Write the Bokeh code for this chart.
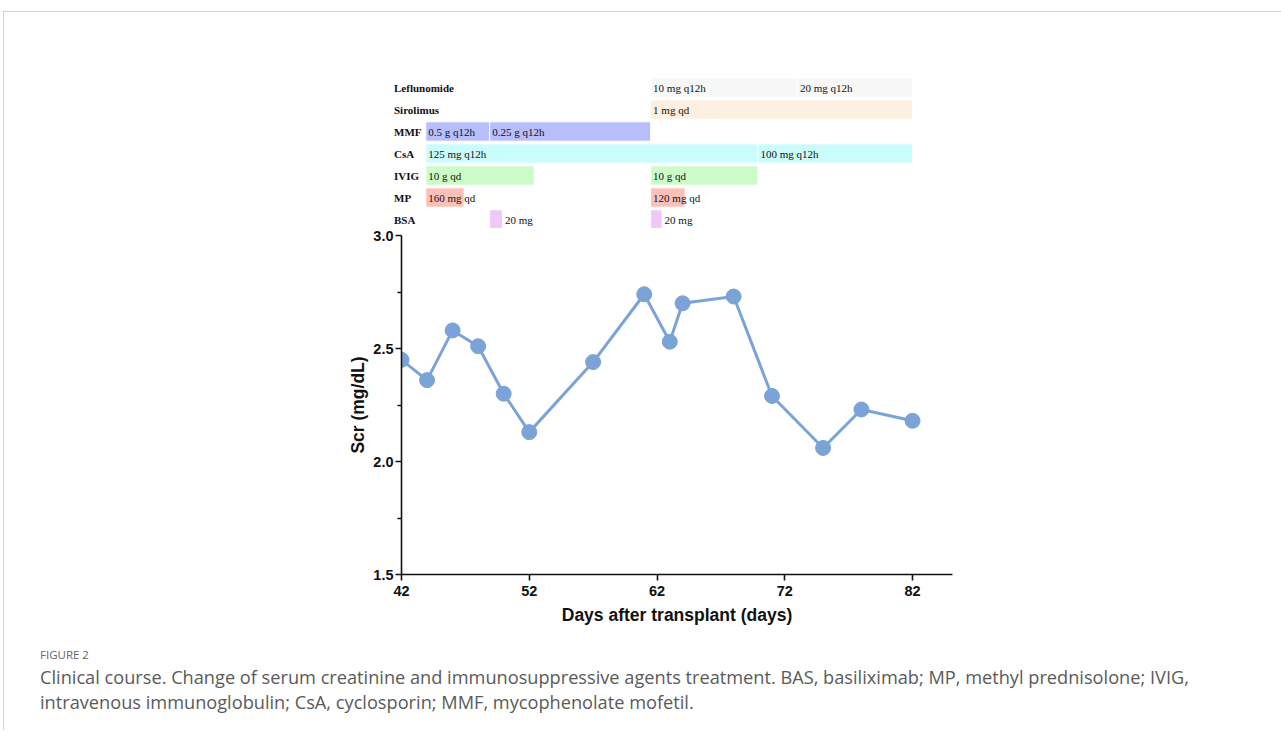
from bokeh.plotting import figure
from bokeh.models import (ColumnDataSource, Range1d, FixedTicker, Div, PrintfTickFormatter)
from bokeh.layouts import column
from bokeh.core.properties import value
from bokeh.embed import file_html
from bokeh.resources import INLINE

# ---------------- data ----------------
days = [42, 44, 46, 48, 50, 52, 57, 61, 63, 64, 68, 71, 75, 78, 82]
scr = [2.45, 2.36, 2.58, 2.51, 2.30, 2.13, 2.44, 2.74, 2.53, 2.70, 2.73, 2.29, 2.06, 2.23, 2.18]

x_ticks = [42, 52, 62, 72, 82]
y_ticks = [1.5, 2.0, 2.5, 3.0]
y_minor = [1.75, 2.25, 2.75]

drugs = ["Leflunomide", "Sirolimus", "MMF", "CsA", "IVIG", "MP", "BSA"]
seg_drug = ["Leflunomide", "Leflunomide", "Sirolimus", "MMF", "MMF", "CsA", "CsA",
            "IVIG", "IVIG", "MP", "MP", "BSA", "BSA"]
seg_start = [61.5, 73.0, 61.5, 43.9, 48.9, 43.9, 69.9, 43.9, 61.5, 43.9, 61.5, 48.9, 61.5]
seg_end = [73.0, 82.0, 82.0, 48.9, 61.5, 69.9, 82.0, 52.4, 69.9, 46.9, 64.2, 49.9, 62.4]
seg_text = ["10 mg q12h", "20 mg q12h", "1 mg qd", "0.5 g q12h", "0.25 g q12h",
            "125 mg q12h", "100 mg q12h", "10 g qd", "10 g qd", "160 mg qd", "120 mg qd",
            "20 mg", "20 mg"]

caption_title = "FIGURE 2"
caption_text = ("Clinical course. Change of serum creatinine and immunosuppressive agents treatment. "
                "BAS, basiliximab; MP, methyl prednisolone; IVIG, intravenous immunoglobulin; "
                "CsA, cyclosporin; MMF, mycophenolate mofetil.")

# ---------------- styles ----------------
drug_colors = {"Leflunomide": "#f7f7f7", "Sirolimus": "#fdf0e0", "MMF": "#b8befb",
               "CsA": "#cbfcfc", "IVIG": "#ccfdc8", "MP": "#fbc0b8", "BSA": "#efc7fb"}
line_color = "#7ba3d8"
PX_PER_DAY = 551 / (85.13 - 42)

# ---------------- treatment-row figure ----------------
top = figure(output_backend="svg", toolbar_location=None,
             frame_width=567, frame_height=216,
             min_border_left=381, min_border_right=329, min_border_top=0, min_border_bottom=0,
             x_range=Range1d(42 - 16 / PX_PER_DAY, 85.13),
             y_range=Range1d(75 / 22 - 216 / 22, 75 / 22))
top.frame_align = False
top.axis.visible = False
top.grid.visible = False
top.outline_line_color = None
top.background_fill_color = "white"
top.border_fill_color = "white"

row_index = {d: i for i, d in enumerate(drugs)}
ys = [-row_index[d] for d in seg_drug]
label_x = [e if d == "BSA" else s for d, s, e in zip(seg_drug, seg_start, seg_end)]
seg_src = ColumnDataSource(dict(
    left=seg_start, right=seg_end,
    bottom=[y - 0.44 for y in ys], top=[y + 0.44 for y in ys],
    color=[drug_colors[d] for d in seg_drug],
    lx=label_x, y=ys, text=seg_text))
top.quad(left="left", right="right", bottom="bottom", top="top", source=seg_src,
         fill_color="color", line_color="white", line_width=1)
top.text(x="lx", y="y", text="text", source=seg_src,
         x_offset=2.5, text_align="left", text_baseline="middle",
         text_font=value("Liberation Serif"), text_font_size="11px", text_color="#111111")

row_src = ColumnDataSource(dict(x=[42] * len(drugs), y=[-i for i in range(len(drugs))], text=drugs))
top.text(x="x", y="y", text="text", source=row_src,
         x_offset=-7.5, text_align="left", text_baseline="middle",
         text_font=value("Liberation Serif"), text_font_style="bold",
         text_font_size="11px", text_color="#111111")

# ---------------- Scr figure ----------------
p = figure(output_backend="svg", toolbar_location=None,
           frame_width=551, frame_height=339,
           min_border_left=397, min_border_top=7, min_border_right=329, min_border_bottom=66,
           x_range=Range1d(42, 85.13), y_range=Range1d(1.5, 3.0))
p.frame_align = False
p.outline_line_color = None
p.grid.visible = False
p.background_fill_color = "white"
p.border_fill_color = "white"

p.line(days, scr, line_width=3, line_color=line_color)
p.scatter(days, scr, size=15, fill_color=line_color, line_color=line_color)

for ax in (p.xaxis[0], p.yaxis[0]):
    ax.axis_line_width = 1.6
    ax.axis_line_color = "#111111"
    ax.major_tick_line_width = 1.6
    ax.minor_tick_line_width = 1.6
    ax.major_tick_line_color = "#111111"
    ax.minor_tick_line_color = "#111111"
    ax.major_tick_out = 6
    ax.major_tick_in = 0
    ax.minor_tick_out = 4
    ax.minor_tick_in = 0
    ax.major_label_text_font = "Liberation Sans"
    ax.major_label_text_font_style = "bold"
    ax.major_label_text_font_size = "14.5px"
    ax.major_label_text_color = "#111111"
    ax.axis_label_text_font = "Liberation Sans"
    ax.axis_label_text_font_style = "bold"
    ax.axis_label_text_color = "#111111"

p.xaxis[0].ticker = FixedTicker(ticks=x_ticks, minor_ticks=[])
p.xaxis[0].axis_label = "Days after transplant (days)"
p.xaxis[0].axis_label_text_font_size = "17.5px"
p.xaxis[0].major_label_standoff = 5
p.xaxis[0].axis_label_standoff = 6

p.yaxis[0].ticker = FixedTicker(ticks=y_ticks, minor_ticks=y_minor)
p.yaxis[0].formatter = PrintfTickFormatter(format="%.1f")
p.yaxis[0].axis_label = "Scr (mg/dL)"
p.yaxis[0].axis_label_text_font_size = "17.5px"
p.yaxis[0].major_label_standoff = 2
p.yaxis[0].axis_label_standoff = 2

cap = Div(text=(
    "<div style=\"font-family:'Open Sans'; color:#666666; padding-left:31px;\">"
    f"<div style='font-size:11.5px; line-height:16px; margin-top:2px;'>{caption_title}</div>"
    f"<div style='font-size:18.2px; line-height:25px; color:#5a5a5a; margin-top:2px; width:1215px;'>{caption_text}</div>"
    "</div>"), width=1277, height=80)

layout = column(top, p, cap, spacing=0,
                styles={"border-top": "1px solid #d2d2d2", "border-left": "1px solid #d2d2d2",
                        "margin-top": "11px", "margin-left": "3px"})

open("out.html", "w").write(file_html(layout, INLINE))
